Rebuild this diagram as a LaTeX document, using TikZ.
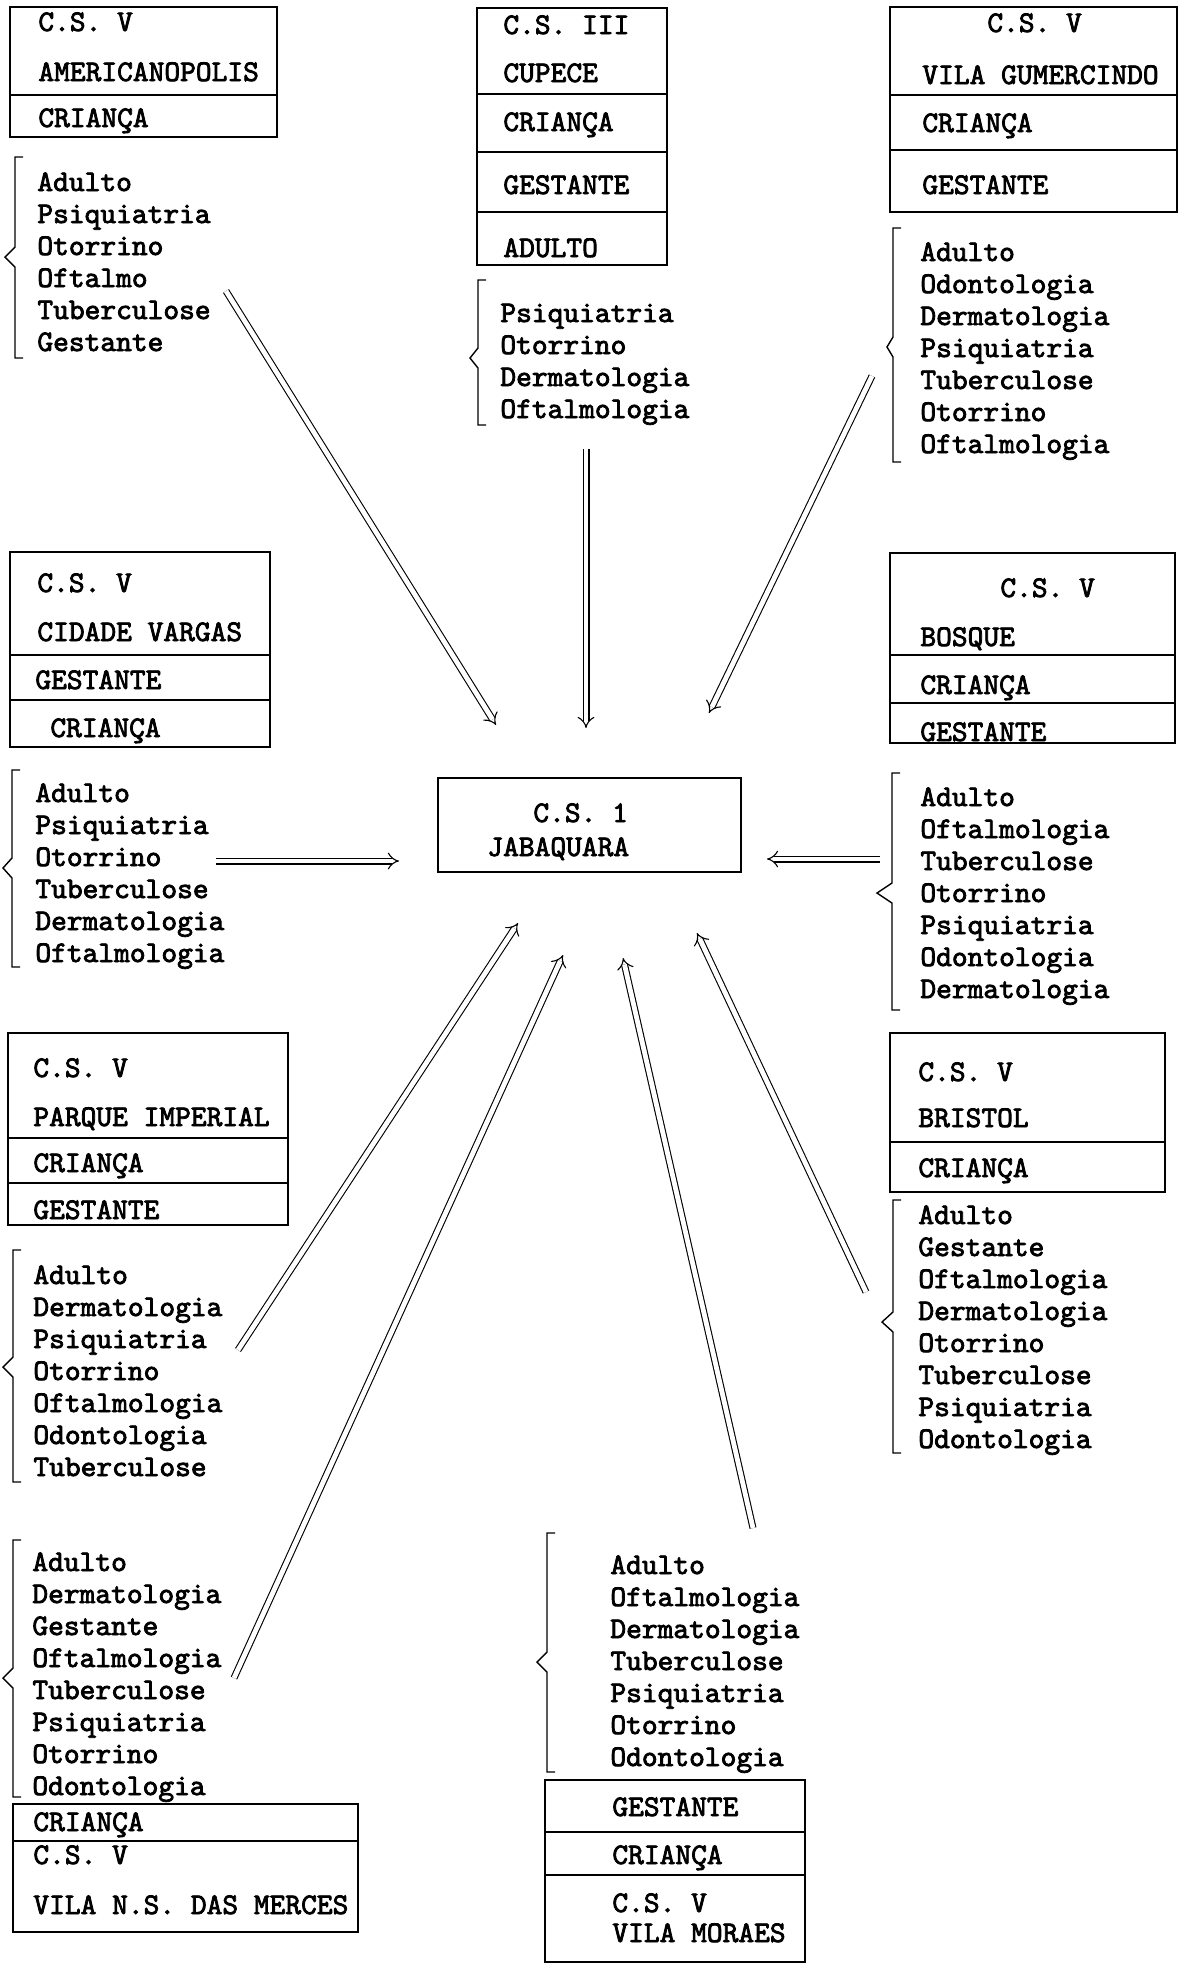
\documentclass[tikz,border=0pt]{standalone}
\usepackage{fontspec}
\newfontfamily\twfont{lmmono10-regular.otf}[FakeBold=2.6]
\usetikzlibrary{arrows.meta,fit}
\tikzset{
  txt/.style={anchor=base west, inner sep=0pt, font=\twfont\fontsize{15}{18}\selectfont},
  boxst/.style={draw, line width=1.1pt, inner sep=0pt},
  divl/.style={line width=0.6pt},
  brkl/.style={line width=0.7pt},
  dbl/.style={double, double distance=2.4pt, line width=0.55pt, -{Implies}},
}
\newcommand{\mylist}[4]{%
  \foreach \t [count=\i] in {#4} {\node[txt] (#1\i) at (#2,{#3+(\i-1)*32}) {\t};}}
\newcommand{\mybrace}[5]{% x, top, bottom, tipx, tipy
  \draw[brkl] ({#1+8},#2) -- (#1,#2) -- (#1,{#5-10}) -- (#4,#5) -- (#1,{#5+10}) -- (#1,#3) -- ({#1+8},#3);}
\begin{document}
\begin{tikzpicture}[x=0.5pt,y=-0.5pt]
\useasboundingbox (0,0) rectangle (1183,1967);
\fill[white] (0,0) rectangle (1183,1967);

% ---------- AMERICANOPOLIS ----------
\node[boxst, fit={(10,7) (277,137)}] (amerbox) {};
\draw[divl] (10,95) -- (277,95);
\node[txt] (amer1) at (38,31) {C.S. V};
\node[txt] (amer2) at (38,81) {AMERICANOPOLIS};
\node[txt] (amer3) at (38,127) {CRIANÇA};
\mybrace{15}{157}{358}{5}{257}
\mylist{amerL}{37}{191}{Adulto,Psiquiatria,Otorrino,Oftalmo,Tuberculose,Gestante}
\coordinate (amerS) at (226,291);

% ---------- CUPECE ----------
\node[boxst, fit={(477,8) (667,265)}] (cupbox) {};
\draw[divl] (477,94) -- (667,94);
\draw[divl] (477,152) -- (667,152);
\draw[divl] (477,212) -- (667,212);
\node[txt] (cup1) at (503,34) {C.S. III};
\node[txt] (cup2) at (503,82) {CUPECE};
\node[txt] (cup3) at (503,131) {CRIANÇA};
\node[txt] (cup4) at (503,194) {GESTANTE};
\node[txt] (cup5) at (503,257) {ADULTO};
\mybrace{478}{280}{425}{470}{358}
\mylist{cupL}{500}{322}{Psiquiatria,Otorrino,Dermatologia,Oftalmologia}
\coordinate (cupS) at (586,449);

% ---------- VILA GUMERCINDO ----------
\node[boxst, fit={(890,7) (1177,212)}] (gumbox) {};
\draw[divl] (890,95) -- (1177,95);
\draw[divl] (890,150) -- (1177,150);
\node[txt] (gum1) at (987,32) {C.S. V};
\node[txt] (gum2) at (922,84) {VILA GUMERCINDO};
\node[txt] (gum3) at (922,132) {CRIANÇA};
\node[txt] (gum4) at (922,194) {GESTANTE};
\mybrace{893}{228}{462}{887}{347}
\mylist{gumL}{920}{261}{Adulto,Odontologia,Dermatologia,Psiquiatria,Tuberculose,Otorrino,Oftalmologia}
\coordinate (gumS) at (872,376);

% ---------- CIDADE VARGAS ----------
\node[boxst, fit={(10,552) (270,747)}] (vargbox) {};
\draw[divl] (10,655) -- (270,655);
\draw[divl] (10,700) -- (270,700);
\node[txt] (varg1) at (37,592) {C.S. V};
\node[txt] (varg2) at (37,641) {CIDADE VARGAS};
\node[txt] (varg3) at (35,689) {GESTANTE};
\node[txt] (varg4) at (50,737) {CRIANÇA};
\mybrace{12}{770}{967}{3}{868}
\mylist{vargL}{35}{802}{Adulto,Psiquiatria,Otorrino,Tuberculose,Dermatologia,Oftalmologia}
\coordinate (vargS) at (216,861);

% ---------- CENTRAL ----------
\node[boxst, line width=1.4pt, fit={(438,778) (741,872)}] (cs1) {};
\node[txt] (cs1a) at (533,822) {C.S. 1};
\node[txt] (cs1b) at (487,856) {JABAQUARA};

% ---------- BOSQUE ----------
\node[boxst, fit={(890,553) (1175,743)}] (bosbox) {};
\draw[divl] (890,655) -- (1175,655);
\draw[divl] (890,703) -- (1175,703);
\node[txt] (bos1) at (1000,597) {C.S. V};
\node[txt] (bos2) at (920,646) {BOSQUE};
\node[txt] (bos3) at (920,694) {CRIANÇA};
\node[txt] (bos4) at (920,741) {GESTANTE};
\mybrace{892}{773}{1010}{877}{893}
\mylist{bosL}{920}{806}{Adulto,Oftalmologia,Tuberculose,Otorrino,Psiquiatria,Odontologia,Dermatologia}
\coordinate (bosS) at (880,859);

% ---------- PARQUE IMPERIAL ----------
\node[boxst, fit={(8,1033) (288,1225)}] (parbox) {};
\draw[divl] (8,1138) -- (288,1138);
\draw[divl] (8,1183) -- (288,1183);
\node[txt] (par1) at (33,1077) {C.S. V};
\node[txt] (par2) at (33,1126) {PARQUE IMPERIAL};
\node[txt] (par3) at (33,1172) {CRIANÇA};
\node[txt] (par4) at (33,1219) {GESTANTE};
\mybrace{13}{1250}{1482}{3}{1367}
\mylist{parL}{33}{1284}{Adulto,Dermatologia,Psiquiatria,Otorrino,Oftalmologia,Odontologia,Tuberculose}
\coordinate (parS) at (238,1350);

% ---------- BRISTOL ----------
\node[boxst, fit={(890,1033) (1165,1192)}] (brisbox) {};
\draw[divl] (890,1142) -- (1165,1142);
\node[txt] (bris1) at (918,1081) {C.S. V};
\node[txt] (bris2) at (918,1127) {BRISTOL};
\node[txt] (bris3) at (918,1177) {CRIANÇA};
\mybrace{893}{1200}{1453}{882}{1322}
\mylist{brisL}{918}{1224}{Adulto,Gestante,Oftalmologia,Dermatologia,Otorrino,Tuberculose,Psiquiatria,Odontologia}
\coordinate (brisS) at (866,1292);

% ---------- VILA N.S. DAS MERCES ----------
\mybrace{13}{1540}{1797}{3}{1678}
\mylist{merL}{32}{1571}{Adulto,Dermatologia,Gestante,Oftalmologia,Tuberculose,Psiquiatria,Otorrino,Odontologia}
\node[boxst, fit={(13,1804) (358,1932)}] (merbox) {};
\draw[divl] (13,1841) -- (358,1841);
\node[txt] (mer1) at (33,1831) {CRIANÇA};
\node[txt] (mer2) at (33,1864) {C.S. V};
\node[txt] (mer3) at (33,1914) {VILA N.S. DAS MERCES};
\coordinate (merS) at (234,1678);

% ---------- VILA MORAES ----------
\mybrace{547}{1533}{1772}{537}{1662}
\mylist{morL}{610}{1574}{Adulto,Oftalmologia,Dermatologia,Tuberculose,Psiquiatria,Otorrino,Odontologia}
\node[boxst, fit={(545,1780) (805,1962)}] (morbox) {};
\draw[divl] (545,1832) -- (805,1832);
\draw[divl] (545,1875) -- (805,1875);
\node[txt] (mor1) at (612,1816) {GESTANTE};
\node[txt] (mor2) at (612,1864) {CRIANÇA};
\node[txt] (mor3) at (612,1912) {C.S. V};
\node[txt] (mor4) at (612,1942) {VILA MORAES};
\coordinate (morS) at (753,1528);

% ---------- arrow tips ----------
\coordinate (tAmer) at (496,725);
\coordinate (tCup) at (586,728);
\coordinate (tGum) at (709,713);
\coordinate (tVarg) at (399,861);
\coordinate (tBos) at (767,859);
\coordinate (tPar) at (518,923);
\coordinate (tMer) at (563,955);
\coordinate (tMor) at (623,958);
\coordinate (tBris) at (697,933);

\draw[dbl] (amerS) -- (tAmer);
\draw[dbl] (cupS) -- (tCup);
\draw[dbl] (gumS) -- (tGum);
\draw[dbl] (vargS) -- (tVarg);
\draw[dbl] (bosS) -- (tBos);
\draw[dbl] (parS) -- (tPar);
\draw[dbl] (merS) -- (tMer);
\draw[dbl] (morS) -- (tMor);
\draw[dbl] (brisS) -- (tBris);
\end{tikzpicture}
\end{document}
